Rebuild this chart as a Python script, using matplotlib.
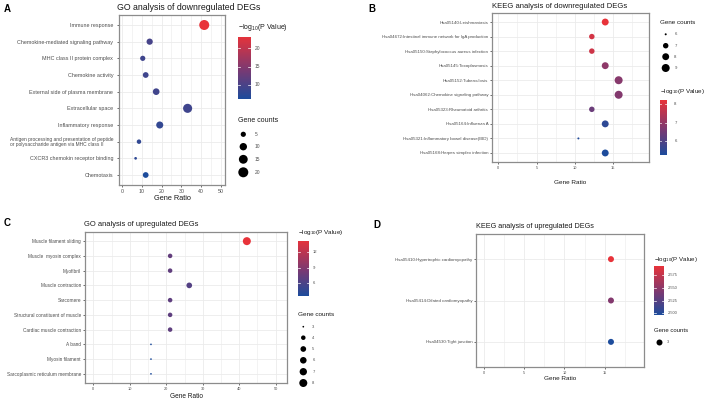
import numpy as np
import matplotlib
matplotlib.use("Agg")
import matplotlib.pyplot as plt
from matplotlib.colors import LinearSegmentedColormap, Normalize

plt.rcParams['font.family'] = ['Liberation Sans', 'DejaVu Sans']
plt.rcParams['mathtext.fontset'] = 'custom'
plt.rcParams['mathtext.rm'] = 'Liberation Sans'
plt.rcParams['mathtext.it'] = 'Liberation Sans:italic'

# ---------------- data ----------------
go_down_terms = ["Immune response", "Chemokine-mediated signaling pathway", "MHC class II protein complex",
                 "Chemokine activity", "External side of plasma membrane", "Extracellular space",
                 "Inflammatory response",
                 "Antigen processing and presentation of peptide\nor polysaccharide antigen via MHC class II",
                 "CXCR3 chemokin receptor binding", "Chemotaxis"]
go_down_ratio = [41.6, 14.0, 10.5, 12.0, 17.3, 33.2, 19.1, 8.6, 6.9, 12.0]
go_down_count = [20, 7, 5, 6, 8, 16, 9, 4, 3, 6]
go_down_logp = [23.0, 9.6, 9.0, 9.0, 9.2, 9.0, 8.0, 7.8, 7.5, 6.1]

kegg_down_terms = ["Hsa05140:Leishmaniasis", "Hsa04672:Intestinal immune network for IgA production",
                   "Hsa05150:Staphylococcus aureus infection", "Hsa05145:Toxoplasmosis",
                   "Hsa05152:Tuberculosis", "Hsa04062:Chemokine signaling pathway",
                   "Hsa05323:Rheumatoid arthritis", "Hsa05164:Influenza A",
                   "Hsa05321:Inflammatory bowel disease(IBD)", "Hsa05168:Herpes simplex infection"]
kegg_down_ratio = [13.95, 12.2, 12.2, 13.95, 15.7, 15.7, 12.2, 13.95, 10.45, 13.95]
kegg_down_count = [8, 7, 7, 8, 9, 9, 7, 8, 6, 8]
kegg_down_logp = [8.2, 7.9, 7.8, 6.9, 6.8, 6.75, 6.4, 5.5, 5.35, 5.27]

go_up_terms = ["Muscle filament sliding", "Muscle  myosin complex", "Myofibril", "Muscle contraction",
               "Sarcomere", "Structural constituent of muscle", "Cardiac muscle contraction",
               "A band", "Myosin filament", "Sarcoplasmic reticulum membrane"]
go_up_ratio = [42.1, 21.05, 21.05, 26.3, 21.05, 21.05, 21.05, 15.8, 15.8, 15.8]
go_up_count = [8, 4, 4, 5, 4, 4, 4, 3, 3, 3]
go_up_logp = [14.3, 7.2, 7.1, 6.4, 7.0, 7.0, 7.0, 3.5, 3.47, 3.45]

kegg_up_terms = ["Hsa05410:Hypertrophic cardiomyopathy", "Hsa05414:Dilated cardiomyopathy",
                 "Hsa04530:Tight junction"]
kegg_up_ratio = [15.76, 15.76, 15.76]
kegg_up_count = [3, 3, 3]
kegg_up_logp = [2.592, 2.545, 2.497]

# ---------------- figure ----------------
W, H = 709, 401
DPI = 100
fig = plt.figure(figsize=(W / DPI, H / DPI), dpi=DPI)
fig.patch.set_facecolor('white')

cmap = LinearSegmentedColormap.from_list('bp', [(0, '#1D4C9C'), (0.45, '#783A74'), (1, '#E8333A')])
TXT = '#4D4D4D'
BORDER = '#8C8C8C'
GRID = '#EBEBEB'


def rect(l, t, r, b):
    return [l / W, 1 - b / H, (r - l) / W, (b - t) / H]


def pts(dpx):
    return (dpx * 72.0 / DPI) ** 2


def make_sizef(vmin, vmax, dmin, dmax):
    def f(v):
        v = np.asarray(v, dtype=float)
        if vmax == vmin:
            return pts(dmax) * np.ones_like(v)
        return pts(dmin + (dmax - dmin) * np.sqrt((v - vmin) / (vmax - vmin)))
    return f


overlay = fig.add_axes([0, 0, 1, 1], zorder=10)
overlay.set_xlim(0, W)
overlay.set_ylim(H, 0)
overlay.axis('off')
overlay.patch.set_alpha(0)


def panel(box, terms, ratio, count, logp, xlim, xticks, xminor, ylsize, xlsize, ypad, xpad, sizef):
    ax = fig.add_axes(rect(*box))
    n = len(terms)
    y = np.arange(n)
    norm = Normalize(min(logp), max(logp))
    ax.scatter(ratio, y, s=sizef(count), c=logp, cmap=cmap, norm=norm, linewidths=0, zorder=3)
    ax.set_xlim(*xlim)
    ax.set_ylim(n - 0.4, -0.6)
    ax.set_xticks(xticks)
    ax.set_xticklabels([str(t) for t in xticks])
    ax.set_xticks(xminor, minor=True)
    ax.set_yticks(y)
    labs = ax.set_yticklabels(terms)
    ax.grid(True, which='major', color=GRID, lw=0.6, zorder=0)
    ax.grid(True, which='minor', axis='x', color=GRID, lw=0.4, zorder=0)
    ax.set_axisbelow(True)
    for sp in ax.spines.values():
        sp.set_color(BORDER)
        sp.set_linewidth(0.9)
    ax.tick_params(axis='y', which='major', length=1.5, width=0.5, color='#333333', pad=ypad,
                   labelsize=ylsize, labelcolor=TXT)
    ax.tick_params(axis='x', which='major', length=1.5, width=0.5, color='#333333', pad=xpad,
                   labelsize=xlsize, labelcolor=TXT)
    ax.tick_params(axis='x', which='minor', length=0)
    for lb in labs:
        if '\n' in lb.get_text():
            lb.set_multialignment('left')
            lb.set_fontsize(ylsize * 0.9)
            lb.set_linespacing(1.05)
    return ax, norm


def colorbar(box, norm, ticks, labels, lsize, lx):
    cax = fig.add_axes(rect(*box))
    grad = np.linspace(norm.vmin, norm.vmax, 256).reshape(-1, 1)
    cax.imshow(grad, aspect='auto', cmap=cmap, norm=norm, origin='lower',
               extent=(0, 1, norm.vmin, norm.vmax))
    cax.set_xlim(0, 1)
    cax.set_ylim(norm.vmin, norm.vmax)
    cax.set_xticks([])
    cax.set_yticks([])
    for sp in cax.spines.values():
        sp.set_visible(False)
    l, t, r, b = box
    for tk, lb in zip(ticks, labels):
        yy = b - (tk - norm.vmin) / (norm.vmax - norm.vmin) * (b - t)
        overlay.plot([l, l + (r - l) * 0.2], [yy, yy], color='white', lw=0.5)
        overlay.plot([r - (r - l) * 0.2, r], [yy, yy], color='white', lw=0.5)
        overlay.text(lx, yy, lb, fontsize=lsize, color=TXT, va='center', ha='left')


def size_legend(xd, ys, vals, sizef, lx, lsize):
    overlay.scatter([xd] * len(vals), ys, s=sizef(vals), color='black', linewidths=0)
    for yy, v in zip(ys, vals):
        overlay.text(lx, yy, str(v), fontsize=lsize, color=TXT, va='center', ha='left')


logp_title = r'$-\mathrm{log}_{10}$(P Value)'

# ---------- Panel A ----------
sfA = make_sizef(3, 20, 2.7, 10.0)
axA, normA = panel((119, 15, 225, 185), go_down_terms, go_down_ratio, go_down_count, go_down_logp,
                   (-1.5, 52.1), [0, 10, 20, 30, 40, 50], [5, 15, 25, 35, 45], 3.9, 3.8, 2.6, 1.6, sfA)
overlay.text(117, 7, "GO analysis of downregulated DEGs", fontsize=6.3, color='#1A1A1A', va='center', ha='left')
overlay.text(172, 198, "Gene Ratio", fontsize=5.3, color='#1A1A1A', va='center', ha='center')
overlay.text(7, 9, "A", fontsize=7, fontweight='bold', va='center', ha='center')
overlay.text(237.7, 27.3, logp_title, fontsize=5.0, color='#1A1A1A', va='center', ha='left')
colorbar((237.7, 37.3, 250.7, 99.3), normA, [10, 15, 20], ['10', '15', '20'], 3.5, 255)
overlay.text(237.7, 120, "Gene counts", fontsize=5.0, color='#1A1A1A', va='center', ha='left')
size_legend(243.3, [134.3, 146.7, 159.3, 172.3], [5, 10, 15, 20], sfA, 255, 3.5)

# ---------- Panel B ----------
sfB = make_sizef(6, 9, 2.0, 8.0)
axB, normB = panel((491.7, 13.3, 649.3, 161.7), kegg_down_terms, kegg_down_ratio, kegg_down_count,
                   kegg_down_logp, (-0.86, 19.7), [0, 5, 10, 15], [2.5, 7.5, 12.5, 17.5], 3.2, 2.8, 1.0, 1.4, sfB)
overlay.text(491.7, 6.5, "KEEG analysis of downregulated DEGs", fontsize=5.5, color='#1A1A1A', va='center', ha='left')
overlay.text(570.5, 182.7, "Gene Ratio", fontsize=4.6, color='#1A1A1A', va='center', ha='center')
overlay.text(372, 9, "B", fontsize=7, fontweight='bold', va='center', ha='center')
overlay.text(660, 22.7, "Gene counts", fontsize=4.5, color='#1A1A1A', va='center', ha='left')
size_legend(665.7, [34.3, 45.7, 56.7, 68], [6, 7, 8, 9], sfB, 674.3, 3.1)
overlay.text(660, 91.7, logp_title, fontsize=4.5, color='#1A1A1A', va='center', ha='left')
colorbar((660, 100, 666.5, 155), normB, [6, 7, 8], ['6', '7', '8'], 3.1, 674.3)

# ---------- Panel C ----------
sfC = make_sizef(3, 8, 1.7, 8.0)
axC, normC = panel((85, 232.3, 287.3, 382.7), go_up_terms, go_up_ratio, go_up_count, go_up_logp,
                   (-2.3, 53.2), [0, 10, 20, 30, 40, 50], [5, 15, 25, 35, 45], 3.4, 2.8, 1.4, 1.4, sfC)
overlay.text(84.3, 224, "GO analysis of upregulated DEGs", fontsize=5.4, color='#1A1A1A', va='center', ha='left')
overlay.text(186, 396.7, "Gene Ratio", fontsize=4.7, color='#1A1A1A', va='center', ha='center')
overlay.text(7, 223, "C", fontsize=7, fontweight='bold', va='center', ha='center')
overlay.text(298.3, 232.3, logp_title, fontsize=4.6, color='#1A1A1A', va='center', ha='left')
colorbar((298.3, 240.7, 308.7, 296), normC, [6, 9, 12], ['6', '9', '12'], 3.0, 312.3)
overlay.text(298.3, 314.3, "Gene counts", fontsize=4.6, color='#1A1A1A', va='center', ha='left')
size_legend(303.3, [326.7, 337.7, 349, 360.3, 371.7, 383], [3, 4, 5, 6, 7, 8], sfC, 312.3, 3.0)

# ---------- Panel D ----------
sfD = make_sizef(3, 3, 6.0, 6.0)
axD, normD = panel((476, 234.3, 644, 366.7), kegg_up_terms, kegg_up_ratio, kegg_up_count, kegg_up_logp,
                   (-0.95, 19.85), [0, 5, 10, 15], [2.5, 7.5, 12.5, 17.5], 3.2, 2.7, 1.2, 1.4, sfD)
overlay.text(476, 226.5, "KEEG analysis of upregulated DEGs", fontsize=5.2, color='#1A1A1A', va='center', ha='left')
overlay.text(560, 378.3, "Gene Ratio", fontsize=4.6, color='#1A1A1A', va='center', ha='center')
overlay.text(377, 225, "D", fontsize=7, fontweight='bold', va='center', ha='center')
overlay.text(654.3, 259.3, logp_title, fontsize=4.4, color='#1A1A1A', va='center', ha='left')
colorbar((654.3, 266, 664.3, 315), normD, [2.500, 2.525, 2.550, 2.575],
         ['2.500', '2.525', '2.550', '2.575'], 2.9, 667.3)
overlay.text(654.3, 331, "Gene counts", fontsize=4.3, color='#1A1A1A', va='center', ha='left')
size_legend(659, [341.7], [3], sfD, 667, 2.9)

fig.savefig("out.png", dpi=DPI, facecolor='white')
